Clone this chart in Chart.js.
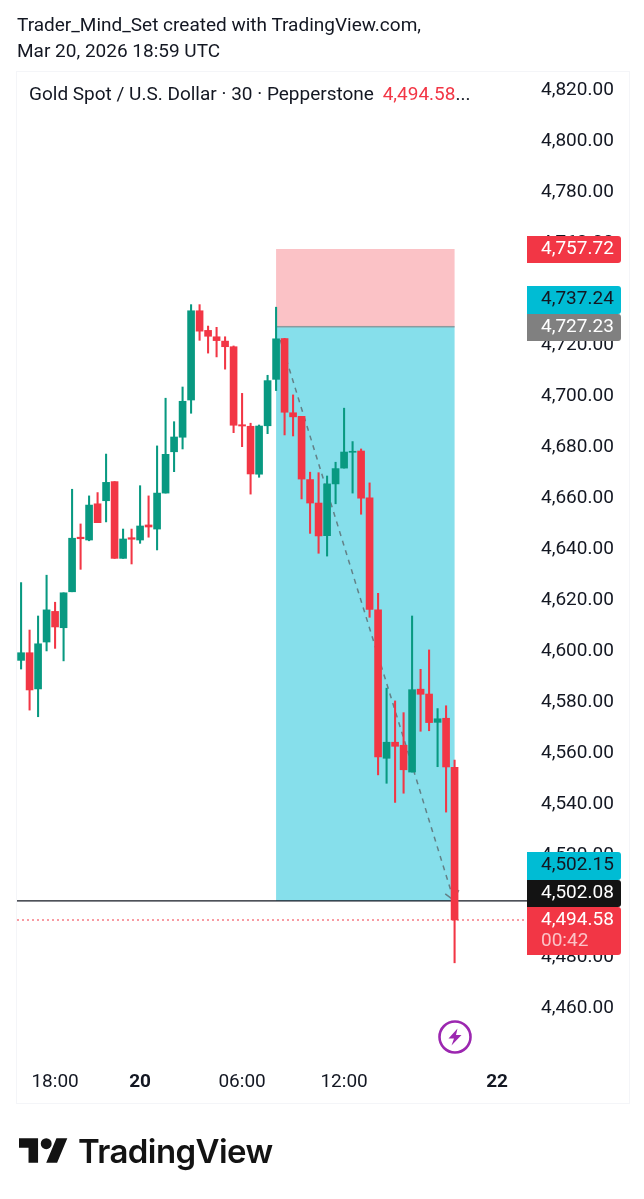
<!DOCTYPE html>
<html>
<head>
<meta charset="utf-8">
<title>Gold Spot / U.S. Dollar</title>
<script src="https://cdn.jsdelivr.net/npm/chart.js@4"></script>
<style>
    html, body { margin: 0; padding: 0; background: #fff; overflow: hidden; }
    body { width: 644px; height: 1199px; position: relative; font-family: Roboto, sans-serif; color: #131722; }
    canvas { position: absolute; left: 0; top: 0; }
    .txt { position: absolute; white-space: nowrap; font-size: 19px; line-height: 26px; }
    #brand { position: absolute; left: 78px; top: 1129px; font-family: Inter, sans-serif; font-weight: 600; font-size: 33px; line-height: 44px; letter-spacing: -0.6px; color: #131313; }
</style>
</head>
<body>
<canvas id="goldChart" width="644" height="1199"></canvas>

<div class="txt" style="left:17px;top:12px">Trader_Mind_Set created with TradingView.com,</div>
<div class="txt" style="left:17px;top:38px">Mar 20, 2026 18:59 UTC</div>
<div class="txt" style="left:29px;top:81px">Gold Spot / U.S. Dollar · 30 · Pepperstone <span style="color:#f23645;margin-left:4px">4,494.58</span>...</div>

<!-- event marker -->
<svg style="position:absolute;left:437px;top:1019px" width="36" height="36" viewBox="0 0 36 36">
    <circle cx="18" cy="18" r="15.5" fill="#fff" stroke="#9c27b0" stroke-width="2.6"/>
    <path d="M20.5 9.5 L11.5 19.5 H17 L14.5 26.5 L24.5 16 H19 Z" fill="#9c27b0"/>
</svg>

<!-- TradingView logo -->
<svg style="position:absolute;left:19px;top:1138px" width="49" height="25" viewBox="0 4 36 18">
    <path d="M14 22H7V11H0V4h14v18zM28 22h-8l7.5-18h8L28 22z" fill="#131313"/>
    <circle cx="20" cy="8" r="4" fill="#131313"/>
</svg>
<div id="brand">TradingView</div>

<script>
// 30 minute candles
const candleOpen = [
    4596.4, 4599.4, 4585.2, 4603.6, 4615.6, 4609.2, 4623.3, 4644.7, 4643.6, 4657.8,
    4659.0, 4666.5, 4636.4, 4644.5, 4643.6, 4649.5, 4647.9, 4662.0, 4678.2, 4683.9,
    4698.5, 4733.5, 4725.8, 4723.3, 4721.6, 4719.4, 4688.8, 4688.2, 4669.4, 4688.4,
    4706.6, 4722.6, 4693.5, 4692.1, 4667.3, 4658.1, 4645.3, 4665.6, 4671.8, 4678.0,
    4678.5, 4660.1, 4616.2, 4558.0, 4564.3, 4563.1, 4552.6, 4585.1, 4583.2, 4572.1,
    4573.7, 4554.5
];
const candleHigh = [
    4626.9, 4608.3, 4613.8, 4629.8, 4619.2, 4622.9, 4663.5, 4649.9, 4660.9, 4662.2,
    4677.3, 4666.5, 4647.9, 4647.9, 4664.9, 4660.9, 4680.5, 4699.2, 4690.0, 4703.6,
    4735.9, 4735.9, 4727.5, 4727.0, 4723.3, 4719.7, 4701.1, 4689.4, 4688.7, 4708.2,
    4734.9, 4722.7, 4700.5, 4692.1, 4670.2, 4670.0, 4668.7, 4674.1, 4695.3, 4682.2,
    4679.3, 4666.0, 4622.7, 4585.5, 4580.5, 4575.9, 4613.8, 4592.9, 4600.5, 4577.5,
    4578.6, 4557.3
];
const candleLow = [
    4593.0, 4576.9, 4574.3, 4600.1, 4601.1, 4596.2, 4623.3, 4632.1, 4643.3, 4650.4,
    4650.7, 4636.4, 4636.4, 4634.2, 4642.3, 4644.7, 4639.7, 4662.0, 4670.4, 4679.3,
    4693.3, 4721.9, 4716.9, 4715.4, 4710.6, 4685.7, 4680.2, 4661.6, 4668.2, 4685.3,
    4702.2, 4684.8, 4684.4, 4659.7, 4646.2, 4638.4, 4637.3, 4657.8, 4671.8, 4662.0,
    4653.7, 4613.3, 4551.5, 4548.2, 4540.7, 4544.3, 4552.6, 4568.6, 4568.8, 4554.7,
    4536.9, 4477.8
];
const candleClose = [
    4599.4, 4584.8, 4602.9, 4616.2, 4609.5, 4622.9, 4644.3, 4644.1, 4657.3, 4650.4,
    4666.2, 4636.4, 4644.0, 4643.9, 4649.1, 4648.7, 4662.0, 4677.2, 4684.0, 4698.0,
    4733.5, 4725.5, 4723.5, 4721.8, 4719.4, 4688.6, 4688.3, 4669.5, 4688.3, 4706.1,
    4722.5, 4693.7, 4691.9, 4667.5, 4658.1, 4645.2, 4665.6, 4671.6, 4678.1, 4678.4,
    4660.0, 4616.4, 4558.5, 4564.3, 4562.7, 4553.5, 4584.9, 4583.1, 4572.0, 4573.5,
    4554.6, 4494.58
];

const priceTicks = [4820, 4800, 4780, 4760, 4740, 4720, 4700, 4680, 4660, 4640, 4620, 4600, 4580, 4560, 4540, 4520, 4500, 4480, 4460];
const timeTicks = [4, 14, 26, 38, 56];
const timeLabels = ['18:00', '20', '06:00', '12:00', '22'];
const boldTimes = ['20', '22'];

// short position drawing
const stopPrice = 4757.72;
const entryPrice = 4727.23;
const targetPrice = 4502.08;
const lastPrice = 4494.58;
const boxFrom = 30.0;
const boxTo = 51.0;
const pathX = [30.5, 50.85];
const pathY = [4722.0, 4503.0];
const arrowX = [49.9, 50.85, 51.5];
const arrowY = [4504.8, 4502.5, 4506.3];

// price tags on the right
const tagLabels = ['4,757.72', '4,737.24', '4,727.23', '4,502.15', '4,502.08', '4,494.58'];
const tagColors = ['#f23645', '#00bcd4', '#808080', '#00bcd4', '#131313', '#f23645'];
const tagInk = ['#fff', '#131722', '#fff', '#131722', '#fff', '#fff'];
const tagTops = [236, 286, 314, 852, 880, 907];
const tagHeights = [27, 28, 27, 28, 27, 48];

const GREEN = '#089981';
const RED = '#f23645';

const candleColors = candleOpen.map((o, i) => (candleClose[i] >= o ? GREEN : RED));
const xMin = -0.48;
const xMax = 59.52;

// background boxes, frame and tags are not chart datasets
const drawingsPlugin = {
    id: 'drawings',
    beforeDatasetsDraw(chart) {
        const c = chart.ctx;
        const x = chart.scales.x;
        const y = chart.scales.y;
        const left = x.getPixelForValue(boxFrom);
        const right = x.getPixelForValue(boxTo);
        const stop = y.getPixelForValue(stopPrice);
        const entry = y.getPixelForValue(entryPrice);
        const target = y.getPixelForValue(targetPrice);
        c.save();
        c.fillStyle = '#fbc2c6';
        c.fillRect(left, stop, right - left, entry - stop);
        c.fillStyle = '#86dfeb';
        c.fillRect(left, entry, right - left, target - entry);
        c.fillStyle = '#8b9a9e';
        c.fillRect(left, entry - 0.8, right - left, 1.5);
        c.restore();
    },
    afterDraw(chart) {
        const c = chart.ctx;
        c.save();
        c.strokeStyle = '#f4f5f8';
        c.lineWidth = 1;
        c.strokeRect(16.5, 71.5, 613, 1032);
        c.font = '19px Roboto';
        c.textBaseline = 'middle';
        tagLabels.forEach((label, i) => {
            c.fillStyle = tagColors[i];
            c.beginPath();
            c.roundRect(527, tagTops[i], 94, tagHeights[i], [0, 3, 3, 0]);
            c.fill();
            c.fillStyle = tagInk[i];
            c.fillText(label, 541, tagTops[i] + 13.5);
        });
        c.fillStyle = 'rgba(255,255,255,0.7)';
        c.fillText('00:42', 541, 941);
        c.restore();
    }
};

new Chart(document.getElementById('goldChart'), {
    type: 'bar',
    data: {
        datasets: [
            {
                label: 'Body',
                data: candleOpen.map((o, i) => ({ x: i, y: [o, candleClose[i]] })),
                backgroundColor: candleColors,
                barThickness: 7,
                grouped: false,
                order: 1
            },
            {
                label: 'Wick',
                data: candleLow.map((l, i) => ({ x: i, y: [l, candleHigh[i]] })),
                backgroundColor: candleColors,
                barThickness: 1.4,
                grouped: false,
                order: 2
            },
            {
                type: 'line',
                label: 'Path',
                data: pathX.map((v, i) => ({ x: v, y: pathY[i] })),
                borderColor: 'rgba(90,105,110,0.8)',
                borderWidth: 1.5,
                borderDash: [5, 5],
                pointRadius: 0,
                order: 3
            },
            {
                type: 'line',
                label: 'Arrow',
                data: arrowX.map((v, i) => ({ x: v, y: arrowY[i] })),
                borderColor: 'rgba(90,105,110,0.8)',
                borderWidth: 1.5,
                pointRadius: 0,
                order: 3
            },
            {
                type: 'line',
                label: 'Target',
                data: [{ x: xMin, y: targetPrice }, { x: xMax, y: targetPrice }],
                borderColor: '#131722',
                borderWidth: 1.2,
                pointRadius: 0,
                order: 4
            },
            {
                type: 'line',
                label: 'Last price',
                data: [{ x: xMin, y: lastPrice }, { x: xMax, y: lastPrice }],
                borderColor: RED,
                borderWidth: 1,
                borderDash: [2, 3],
                pointRadius: 0,
                order: 4
            }
        ]
    },
    options: {
        responsive: false,
        animation: false,
        events: [],
        layout: { padding: { left: 17, top: 72, right: 15, bottom: 96 } },
        plugins: {
            legend: { display: false },
            tooltip: { enabled: false }
        },
        scales: {
            x: {
                type: 'linear',
                offset: false,
                min: xMin,
                max: xMax,
                grid: { display: false },
                border: { display: false },
                afterBuildTicks: axis => { axis.ticks = timeTicks.map(v => ({ value: v })); },
                afterFit: axis => { axis.height = 41; },
                ticks: {
                    autoSkip: false,
                    maxRotation: 0,
                    padding: 1,
                    color: '#131722',
                    font: ctx => ({
                        family: 'Roboto',
                        size: 19,
                        weight: boldTimes.includes(timeLabels[ctx.index]) ? 'bold' : 'normal'
                    }),
                    callback: (v, i) => timeLabels[i]
                }
            },
            y: {
                position: 'right',
                min: 4438.9,
                max: 4827.13,
                grid: { display: false },
                border: { display: false },
                afterBuildTicks: axis => { axis.ticks = priceTicks.map(v => ({ value: v })); },
                afterFit: axis => { axis.width = 102; },
                ticks: {
                    autoSkip: false,
                    padding: 6,
                    color: '#131722',
                    font: { family: 'Roboto', size: 19 },
                    callback: v => v.toLocaleString('en-US', { minimumFractionDigits: 2 })
                }
            }
        }
    },
    plugins: [drawingsPlugin]
});
</script>
</body>
</html>
